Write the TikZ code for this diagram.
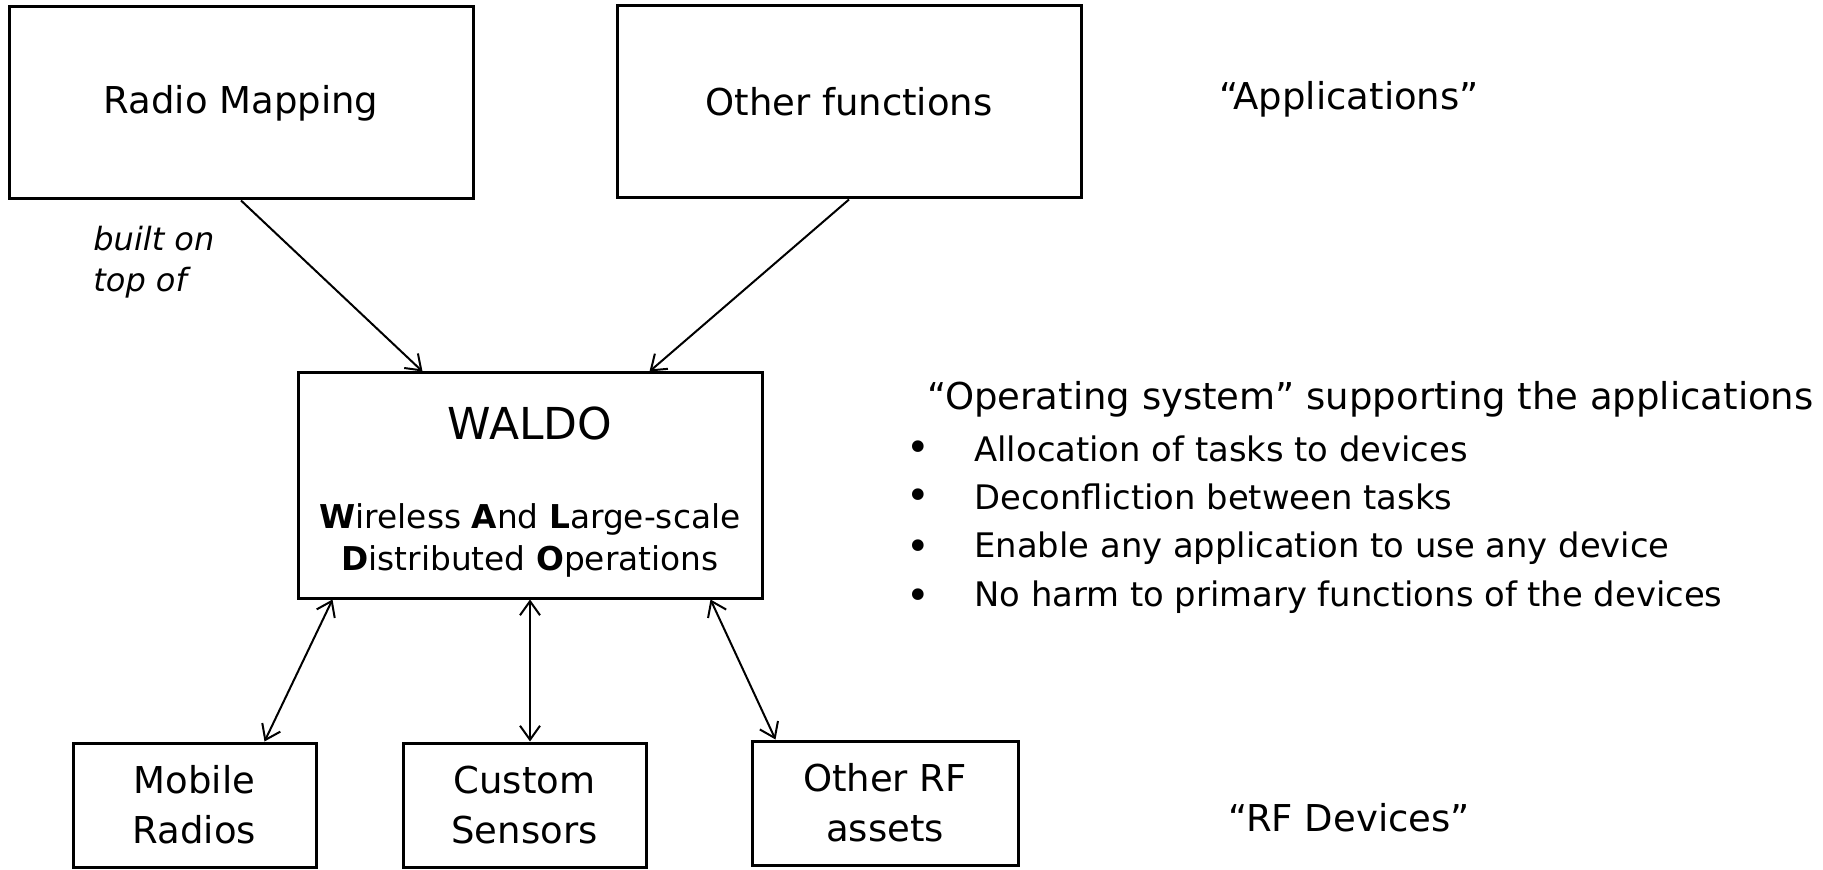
\documentclass[tikz,border=0pt]{standalone}
\usepackage{fontspec}
\setmainfont{DejaVu Sans}
\usetikzlibrary{arrows.meta,calc}
\begin{document}
\begin{tikzpicture}[x=0.5pt,y=-0.5pt,
  box/.style={draw,line width=1.5pt,inner sep=0pt,align=center,font=\fontsize{18.5}{25}\selectfont},
  txt/.style={inner sep=0pt,font=\fontsize{18.5}{25}\selectfont},
  btxt/.style={inner sep=0pt,anchor=west,font=\fontsize{16.9}{22}\selectfont},
  arr/.style={line width=1pt,-{Straight Barb[length=7pt,width=10pt,line width=1pt]}},
  darr/.style={line width=1pt,{Straight Barb[length=7pt,width=10pt,line width=1pt]}-{Straight Barb[length=7pt,width=10pt,line width=1pt]}}]
\useasboundingbox (0,0) rectangle (1823,870);
% application boxes
\node[box,minimum width=232pt,minimum height=96pt] (rm) at (241,103) {\raisebox{-2pt}{Radio Mapping}};
\node[box,minimum width=232pt,minimum height=96pt] (of) at (849,102) {\raisebox{-2pt}{Other functions}};
% WALDO
\node[box,minimum width=232pt,minimum height=112.5pt] (waldo) at (530,485.5) {};
\node[txt,font=\fontsize{22}{28}\selectfont] (waldoT) at (530,423) {WALDO};
\node[txt,align=center,font=\fontsize{16.4}{21}\selectfont] (waldoS) at (530,540) {\textbf{W}ireless \textbf{A}nd \textbf{L}arge-scale\\\textbf{D}istributed \textbf{O}perations};
% device boxes
\node[box,minimum width=121.5pt,minimum height=62pt] (mr) at (194.5,805) {\raisebox{-1.5pt}{\parbox{110pt}{\centering Mobile\\Radios}}};
\node[box,minimum width=121.5pt,minimum height=62pt] (cs) at (524.5,805) {\raisebox{-1.5pt}{\parbox{110pt}{\centering Custom\\Sensors}}};
\node[box,minimum width=133pt,minimum height=62pt] (orf) at (885,803) {\raisebox{-1.5pt}{\parbox{120pt}{\centering Other RF\\assets}}};
% labels
\node[txt,anchor=west,align=left,font=\fontsize{16}{20.5}\itshape] (built) at (93,262) {built on\\top of};
\node[txt] (apps) at (1349,99) {“Applications”};
\node[txt] (rfd) at (1349,818) {“RF Devices”};
\node[txt,anchor=west] (os) at (927,399) {“Operating system” supporting the applications};
\node[btxt] (b1) at (974,449) {Allocation of tasks to devices};
\node[btxt] (b2) at (974,497) {Deconfliction between tasks};
\node[btxt] (b3) at (974,548) {Enable any application to use any device};
\node[btxt] (b4) at (974,597) {No harm to primary functions of the devices};
\foreach \n in {b1,b2,b3,b4}{
  \node[inner sep=0pt,font=\fontsize{20}{22}\selectfont] at ($(\n.west)+(-56,2)$) {•};
}
% connectors
\draw[arr] (rm.south) -- ([xshift=63pt]waldo.north west);
\draw[arr] (of.south) -- ([xshift=176.5pt]waldo.north west);
\draw[darr] ([xshift=18pt]waldo.south west) -- ([xshift=96.5pt]mr.north west);
\draw[darr] (waldo.south) -- (waldo.south |- cs.north);
\draw[darr] ([xshift=207pt]waldo.south west) -- ([xshift=12.5pt]orf.north west);
\end{tikzpicture}
\end{document}
